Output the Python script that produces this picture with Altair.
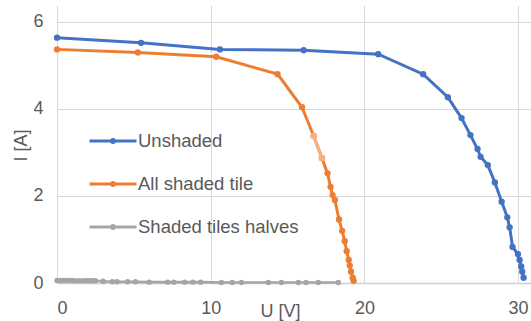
import altair as alt
import pandas as pd

# I-U characteristics of a PV module under three shading conditions
series_names = ["Unshaded", "All shaded tile", "Shaded tiles halves"]
series_colors = ["#4472C4", "#ED7D31", "#A5A5A5"]

unshaded_u = [0, 5.47, 10.6, 16.05, 20.9, 23.82, 25.43, 26.32, 26.9, 27.36, 27.56,
              28.03, 28.49, 28.93, 29.3, 29.45, 29.64, 29.99, 30.1, 30.2, 30.27, 30.36]
unshaded_i = [5.64, 5.52, 5.37, 5.35, 5.26, 4.80, 4.27, 3.79, 3.40, 3.08, 2.90,
              2.71, 2.31, 1.87, 1.51, 1.28, 0.83, 0.66, 0.53, 0.38, 0.26, 0.12]

shaded_u = [0, 5.26, 10.36, 14.35, 15.94, 16.7, 17.24, 17.6, 17.8, 17.93, 18.08,
            18.35, 18.55, 18.72, 18.85, 18.98, 19.05, 19.13, 19.24, 19.3]
shaded_i = [5.37, 5.30, 5.20, 4.80, 4.04, 3.38, 2.87, 2.52, 2.21, 2.02, 1.91,
            1.46, 1.20, 0.96, 0.73, 0.53, 0.40, 0.26, 0.12, 0.05]

halves_u = [0, 0.2, 0.4, 0.6, 0.8, 1.0, 1.2, 1.45, 1.7, 1.9, 2.1, 2.3, 2.5, 3.0,
            3.6, 3.9, 4.6, 5.1, 6.0, 7.2, 7.6, 8.3, 8.85, 9.35, 10.7, 11.4, 12.0,
            13.75, 14.6, 15.7, 16.2, 17.0, 18.3]
halves_i = [0.06, 0.06, 0.06, 0.06, 0.06, 0.06, 0.05, 0.05, 0.05, 0.05, 0.05, 0.05,
            0.05, 0.04, 0.03, 0.03, 0.03, 0.03, 0.02, 0.02, 0.02, 0.02, 0.02, 0.02,
            0.01, 0.01, 0.01, 0.01, 0.01, 0.01, 0.01, 0.01, 0.01]

# segment of the shaded curve drawn in a lighter tone
fade_u = shaded_u[5:7]
fade_i = shaded_i[5:7]

frames = []
for name, us, iv in zip(series_names,
                        [unshaded_u, shaded_u, halves_u],
                        [unshaded_i, shaded_i, halves_i]):
    frames.append(pd.DataFrame({"U": us, "I": iv, "series": name,
                                "idx": range(len(us))}))
df = pd.concat(frames, ignore_index=True)
fade_df = pd.DataFrame({"U": fade_u, "I": fade_i, "idx": range(len(fade_u))})

x_scale = alt.Scale(domain=[0, 30.84], nice=False, zero=False)
y_scale = alt.Scale(domain=[0, 6.39], nice=False)
color_scale = alt.Scale(domain=series_names, range=series_colors)

x_axis = alt.Axis(values=[0, 10, 20, 30], title="U [V]", grid=True, ticks=False,
                  labelPadding=16, titleX=223, titleY=19, titleBaseline="top",
                  titleAnchor="start", titleAlign="center")
y_axis = alt.Axis(values=[0, 2, 4, 6], title="I [A]", grid=True, ticks=False,
                  domain=False, labelPadding=14, titleX=-36, titleY=140,
                  titleAngle=270, titleBaseline="middle", titleAlign="center",
                  titleAnchor="start")

legend = alt.Legend(title=None, orient="none", legendX=31, legendY=111,
                    symbolType="M-1,0L1,0M-0.06,0A0.06,0.06,0,1,1,0.06,0A0.06,0.06,0,1,1,-0.06,0Z",
                    symbolSize=2209, symbolStrokeWidth=3, labelFontSize=18.5,
                    labelColor="#595959", labelFont="Liberation Sans", labelLimit=400,
                    rowPadding=8, labelOffset=0, padding=0, symbolOpacity=1)

layers = []
widths = {"Unshaded": 3, "All shaded tile": 3, "Shaded tiles halves": 2.6}
sizes = {"Unshaded": 40, "All shaded tile": 40, "Shaded tiles halves": 30}
for k, name in enumerate(series_names):
    sub = alt.Chart(df).transform_filter(alt.datum.series == name)
    enc = dict(
        x=alt.X("U:Q", scale=x_scale, axis=x_axis),
        y=alt.Y("I:Q", scale=y_scale, axis=y_axis),
        color=alt.Color("series:N", scale=color_scale, legend=legend),
        order=alt.Order("idx:Q"),
    )
    layers.append(sub.mark_line(strokeWidth=widths[name]).encode(**enc))
    layers.append(sub.mark_circle(size=sizes[name], opacity=1).encode(
        x="U:Q", y="I:Q", color=alt.Color("series:N", scale=color_scale, legend=legend)))
    if name == "All shaded tile":
        fade = alt.Chart(fade_df)
        layers.append(fade.mark_line(strokeWidth=3, color="#F4B183").encode(
            x="U:Q", y="I:Q", order="idx:Q"))
        layers.append(fade.mark_circle(size=40, opacity=1, color="#F4B183").encode(
            x="U:Q", y="I:Q"))

chart = alt.layer(*layers).properties(
    width=474, height=278,
    autosize=alt.AutoSizeParams(type="none"),
    padding={"left": 57, "top": 5, "right": 0, "bottom": 38},
).configure_view(stroke=None).configure_axis(
    gridColor="#D9D9D9", gridWidth=1, domainColor="#D0D0D0", domainWidth=1.3,
    labelFont="Liberation Sans", labelFontSize=18, labelColor="#595959",
    titleFont="Liberation Sans", titleFontSize=18, titleColor="#595959",
    titleFontWeight="normal",
)

chart.save("out.html", embed_options={"renderer": "svg", "actions": False})
